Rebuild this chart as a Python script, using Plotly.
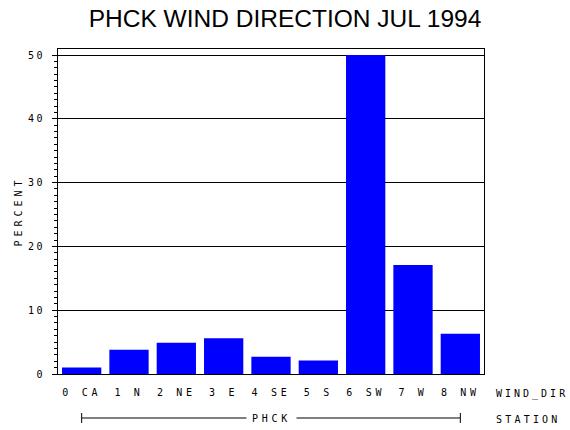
import plotly.graph_objects as go

# --- Data ---
directions = ["0 CA", "1 N", "2 NE", "3 E", "4 SE", "5 S", "6 SW", "7 W", "8 NW"]
percent = [1.0, 3.8, 4.9, 5.6, 2.7, 2.1, 50.0, 17.1, 6.3]
station = "PHCK"
y_ticks = [0, 10, 20, 30, 40, 50]

MONO = "DejaVu Sans Mono"
W, H = 570, 430


def spaced(text, px):
    # widen letter spacing like the old stroke font of the original
    return f'<span style="letter-spacing:{px}px">{text}</span>'


small = dict(family=MONO, size=10, color="black")

fig = go.Figure()

fig.add_trace(go.Bar(
    x=directions,
    y=percent,
    marker=dict(color="#0000ff", line=dict(width=0)),
    hoverinfo="skip",
))

# --- Station bracket under the category labels ---
fig.add_shape(type="line", xref="x", yref="paper", ysizemode="pixel", yanchor=0,
              x0=0, x1=len(directions) - 1, y0=-44, y1=-44,
              line=dict(color="black", width=1))
for end in (0, len(directions) - 1):
    fig.add_shape(type="line", xref="x", yref="paper", ysizemode="pixel", yanchor=0,
                  x0=end, x1=end, y0=-39, y1=-49,
                  line=dict(color="black", width=1))

fig.add_annotation(x=(len(directions) - 1) / 2, xref="x", y=0, yref="paper",
                   yshift=-44, yanchor="middle", showarrow=False,
                   text=spaced(station, 3.7), bgcolor="white", borderpad=5,
                   font=small)

# axis names on the right
fig.add_annotation(x=1, xref="paper", xshift=10, xanchor="left", y=0, yref="paper",
                   yshift=-20, yanchor="middle", showarrow=False,
                   text=spaced("WIND_DIR", 3), font=small)
fig.add_annotation(x=1, xref="paper", xshift=10, xanchor="left", y=0, yref="paper",
                   yshift=-45, yanchor="middle", showarrow=False,
                   text=spaced("STATION", 3.2), font=small)

fig.update_layout(
    width=W,
    height=H,
    autosize=False,
    margin=dict(l=58, r=W - 484, t=49, b=H - 374),
    paper_bgcolor="white",
    plot_bgcolor="white",
    showlegend=False,
    bargap=0.17,
    title=dict(
        text="PHCK WIND DIRECTION JUL 1994",
        x=0.5, xref="container", xanchor="center",
        y=1 - 18 / H, yref="container", yanchor="middle",
        font=dict(family="Liberation Sans", size=24.5, color="black"),
    ),
    xaxis=dict(
        range=[-0.5, len(directions) - 0.5],
        tickmode="array",
        tickvals=directions,
        ticktext=[spaced(d, 3.7) for d in directions],
        ticks="",
        showgrid=False,
        showline=True,
        linecolor="black",
        linewidth=1,
        mirror=True,
        tickfont=small,
        ticklabelstandoff=9,
        automargin=False,
    ),
    yaxis=dict(
        range=[0, 50.94],
        tickmode="array",
        tickvals=y_ticks,
        ticktext=[spaced(v, 2.5) for v in y_ticks],
        ticks="outside",
        ticklen=5,
        tickcolor="black",
        showgrid=True,
        gridcolor="black",
        gridwidth=1,
        zeroline=False,
        showline=True,
        linecolor="black",
        linewidth=1,
        mirror=True,
        tickfont=small,
        ticklabelstandoff=5,
        minor=dict(dtick=1, ticks="outside", ticklen=3, tickcolor="black", showgrid=False),
        title=dict(text=spaced("PERCENT", 4), standoff=3, font=small),
        automargin=False,
    ),
)

# drop the browser's default body margin so the figure fills the window
fig.write_html("out.html",
               config={"displayModeBar": False},
               post_script="document.body.style.margin='0';document.body.style.overflow='hidden';")
